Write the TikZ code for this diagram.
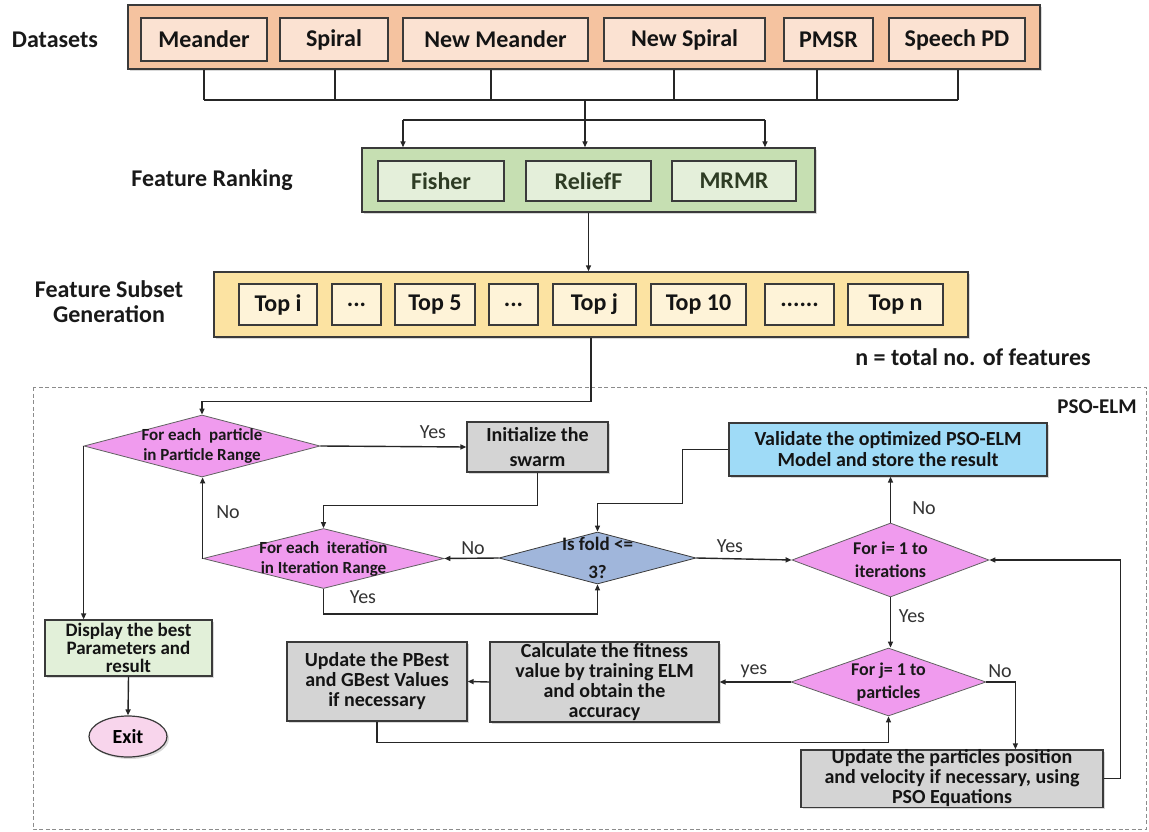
\documentclass[tikz,border=0pt]{standalone}
\usepackage{fontspec}
\setmainfont{Carlito}
\usepackage{xcolor}
\usetikzlibrary{shapes.geometric}
\usetikzlibrary{arrows.meta}
\usetikzlibrary{shadows}
\definecolor{dsfill}{HTML}{F5C3A0}
\definecolor{dsin}{HTML}{FBE2D2}
\definecolor{frfill}{HTML}{C6DFB2}
\definecolor{frin}{HTML}{E4EFDA}
\definecolor{frtext}{HTML}{2E3C24}
\definecolor{ssfill}{HTML}{FCE3A2}
\definecolor{ssin}{HTML}{FEF3D8}
\definecolor{pinkdec}{HTML}{F09BEE}
\definecolor{folddec}{HTML}{A0B6DB}
\definecolor{procgray}{HTML}{D4D4D4}
\definecolor{validblue}{HTML}{9FDBF7}
\definecolor{dispgreen}{HTML}{E2F0D9}
\definecolor{exitpink}{HTML}{F8D5EC}
\definecolor{edge}{HTML}{3A3A3A}

\begin{document}
\begin{tikzpicture}[x=1pt,y=-1pt,
	shade/.style={drop shadow={shadow xshift=2pt,shadow yshift=-2pt,opacity=0.3}},
	outer/.style={draw=edge,line width=1.4pt,inner sep=0pt,shade},
	item/.style={draw=edge,line width=1.2pt,inner sep=0pt,text=black!92,font=\fontsize{24}{26}\selectfont\bfseries},
	lbl/.style={font=\fontsize{24}{26}\selectfont\bfseries,align=center,text=black!90},
	decision/.style={diamond,draw=edge!80,line width=0.8pt,fill=pinkdec,inner sep=0pt},
	dlabel/.style={align=center,font=\fontsize{17}{20}\selectfont\bfseries,text=black!90},
	proc/.style={draw=edge,line width=1.2pt,fill=procgray,align=center,inner sep=0pt,shade,text=black!92,font=\fontsize{20}{20}\selectfont\bfseries},
	ans/.style={font=\fontsize{20}{22}\selectfont,text=black!80},
	link/.style={line width=1.4pt,draw=black!85},
	arr/.style={link,-{Triangle[length=6pt,width=5pt]}}]
	\useasboundingbox (0,0) rectangle (1149,832);

	\node[lbl] (dslbl) at (55,40) {Datasets};
	\node[outer,fill=dsfill,minimum width=912pt,minimum height=64pt] (dsbox) at (584,37) {};
	\node[item,fill=dsin,minimum width=126pt,minimum height=43pt] (meander) at (204,39.5) {Meander};
	\node[item,fill=dsin,minimum width=108pt,minimum height=43pt] (spiral) at (334,39.5) {Spiral};
	\node[item,fill=dsin,minimum width=185pt,minimum height=43pt] (newmeander) at (495.5,39.5) {New Meander};
	\node[item,fill=dsin,minimum width=161pt,minimum height=43pt] (newspiral) at (684.5,39.5) {New Spiral};
	\node[item,fill=dsin,minimum width=89pt,minimum height=43pt] (pmsr) at (828.5,39.5) {PMSR};
	\node[item,fill=dsin,minimum width=136pt,minimum height=43pt] (speech) at (957,39.5) {Speech PD};

	\coordinate (merge) at (585,100);
	\coordinate (mergel) at (204,100);
	\coordinate (merger) at (958,100);
	\coordinate (split) at (585,120);
	\coordinate (splitl) at (403,120);
	\coordinate (splitr) at (765,120);
	\foreach \x in {204,335,491,674,817,958}
		\draw[link] (\x,0 |- dsbox.south) -- (\x,0 |- merge);
	\draw[link] (mergel) -- (merger);
	\draw[link] (merge) -- (split);
	\draw[link] (splitl) -- (splitr);

	\node[lbl] (frlbl) at (212,180) {Feature Ranking};
	\node[outer,fill=frfill,minimum width=453pt,minimum height=64pt] (frbox) at (588.5,180) {};
	\node[item,fill=frin,text=frtext,minimum width=126pt,minimum height=40pt] (fisher) at (441,181) {Fisher};
	\node[item,fill=frin,text=frtext,minimum width=125pt,minimum height=40pt] (relief) at (588.5,181) {ReliefF};
	\node[item,fill=frin,text=frtext,minimum width=124pt,minimum height=40pt] (mrmr) at (734,181) {MRMR};
	\foreach \s in {splitl,split,splitr}
		\draw[arr] (\s) -- (\s |- frbox.north);

	\node[lbl] (sslbl) at (109,302) {Feature Subset\\[-1pt]Generation};
	\node[outer,fill=ssfill,minimum width=754pt,minimum height=65pt] (ssbox) at (591,304.5) {};
	\node[item,fill=ssin,minimum width=78pt,minimum height=41pt] (topi) at (278,304.5) {Top i};
	\node[item,fill=ssin,minimum width=49pt,minimum height=41pt] (dotsa) at (356.5,304.5) {...};
	\node[item,fill=ssin,minimum width=80pt,minimum height=41pt] (topfive) at (435,304.5) {Top 5};
	\node[item,fill=ssin,minimum width=49pt,minimum height=41pt] (dotsb) at (513.5,304.5) {...};
	\node[item,fill=ssin,minimum width=83pt,minimum height=41pt] (topj) at (594.5,304.5) {Top j};
	\node[item,fill=ssin,minimum width=95pt,minimum height=41pt] (topten) at (698.5,304.5) {Top 10};
	\node[item,fill=ssin,minimum width=69pt,minimum height=41pt] (dotsc) at (799.5,304.5) {......};
	\node[item,fill=ssin,minimum width=95pt,minimum height=41pt] (topn) at (895.5,304.5) {Top n};
	\node[lbl] (nlbl) at (973,357) {n = total no. of features};
	\draw[arr] (frbox.south) -- (frbox.south |- ssbox.north);

	\draw[draw=black!45,line width=0.9pt,dash pattern=on 4pt off 2.5pt] (33,387) rectangle (1146,829);
	\node[font=\fontsize{21}{23}\selectfont\bfseries,text=black!90] (psolbl) at (1097,407) {PSO-ELM};

	\node[decision,minimum width=236pt,minimum height=62pt,label={[dlabel]center:For each\ \ particle\\in Particle Range}] (part) at (202,446) {};
	\node[proc,minimum width=141pt,minimum height=50pt,font=\fontsize{20}{25}\selectfont\bfseries] (init) at (537.5,447) {Initialize the\\swarm};
	\node[decision,minimum width=241pt,minimum height=60pt,label={[dlabel]center:For each\ \ iteration\\in Iteration Range}] (iter) at (323.5,558.5) {};
	\node[decision,fill=folddec,draw=edge,minimum width=197pt,minimum height=52pt,label={[dlabel,font=\fontsize{19}{28}\selectfont\bfseries]center:Is fold <=\\3?}] (fold) at (597.5,558) {};
	\node[proc,fill=validblue,minimum width=318pt,minimum height=53pt,font=\fontsize{20}{21}\selectfont\bfseries] (valid) at (888,449.5) {Validate the optimized PSO-ELM\\Model and store the result};
	\node[decision,minimum width=197pt,minimum height=74pt,label={[dlabel,font=\fontsize{18}{23}\selectfont\bfseries]center:For i= 1 to\\iterations}] (idiam) at (890.5,560) {};
	\node[decision,minimum width=195pt,minimum height=68pt,label={[dlabel,font=\fontsize{18}{23}\selectfont\bfseries]center:For j= 1 to\\particles}] (jdiam) at (888.5,682) {};
	\node[proc,minimum width=229pt,minimum height=80pt] (calc) at (604.5,682) {Calculate the fitness\\value by training ELM\\and obtain the\\accuracy};
	\node[proc,minimum width=180pt,minimum height=79pt] (pbest) at (377,681.5) {Update the PBest\\and GBest Values\\if necessary};
	\node[proc,minimum width=302pt,minimum height=53pt] (update) at (952,778.5) {Update the particles position\\and velocity if necessary, using\\PSO Equations};
	\node[proc,fill=dispgreen,minimum width=167pt,minimum height=56pt,font=\fontsize{19}{18}\selectfont\bfseries] (disp) at (128.5,648) {Display the best\\Parameters and\\result};
	\node[ellipse,draw=edge,line width=1.2pt,fill=exitpink,minimum width=78pt,minimum height=41pt,inner sep=0pt,shade,font=\fontsize{20}{22}\selectfont\bfseries] (exit) at (128,736.5) {Exit};

	\draw[arr] (ssbox.south) -- ++(0,64) -| (part.north);
	\draw[arr] (part.east) -- (init.west);
	\node[ans] (yesa) at (433,432) {Yes};
	\draw[arr] (init.south) -- ++(0,33) -| (iter.north);
	\draw[arr] (fold.west) -- (iter.east);
	\node[ans] (noa) at (473,548) {No};
	\draw[arr] (iter.west) -- (iter.west |- part.south);
	\node[ans] (nob) at (228,512) {No};
	\draw[arr] (iter.south) -- ++(0,25) -| (fold.south);
	\node[ans] (yesb) at (363,597) {Yes};
	\draw[arr] (valid.west) -- ++(-46,0) -- ++(0,54) -| (fold.north);
	\draw[arr] (fold.east) -- (idiam.west);
	\node[ans] (yesc) at (730,546) {Yes};
	\draw[arr] (idiam.north) -- (idiam.north |- valid.south);
	\node[ans] (noc) at (924,508) {No};
	\draw[arr] (idiam.south) -- (idiam.south |- jdiam.north);
	\node[ans] (yesd) at (912,616) {Yes};
	\draw[arr] (jdiam.west) -- (calc.east);
	\node[ans] (yese) at (754,671) {yes};
	\draw[arr] (calc.west) -- (pbest.east);
	\draw[arr] (pbest.south) -- ++(0,21) -| (jdiam.south);
	\draw[arr] (jdiam.east) -- ++(29,0) coordinate (jturn) -- (jturn |- update.north);
	\node[ans] (nod) at (1000,671) {No};
	\draw[arr] (update.east) -- ++(17,0) |- (idiam.east);
	\draw[arr] (part.west) -- (part.west |- disp.north);
	\draw[arr] (disp.south) -- (exit.north);
\end{tikzpicture}
\end{document}
